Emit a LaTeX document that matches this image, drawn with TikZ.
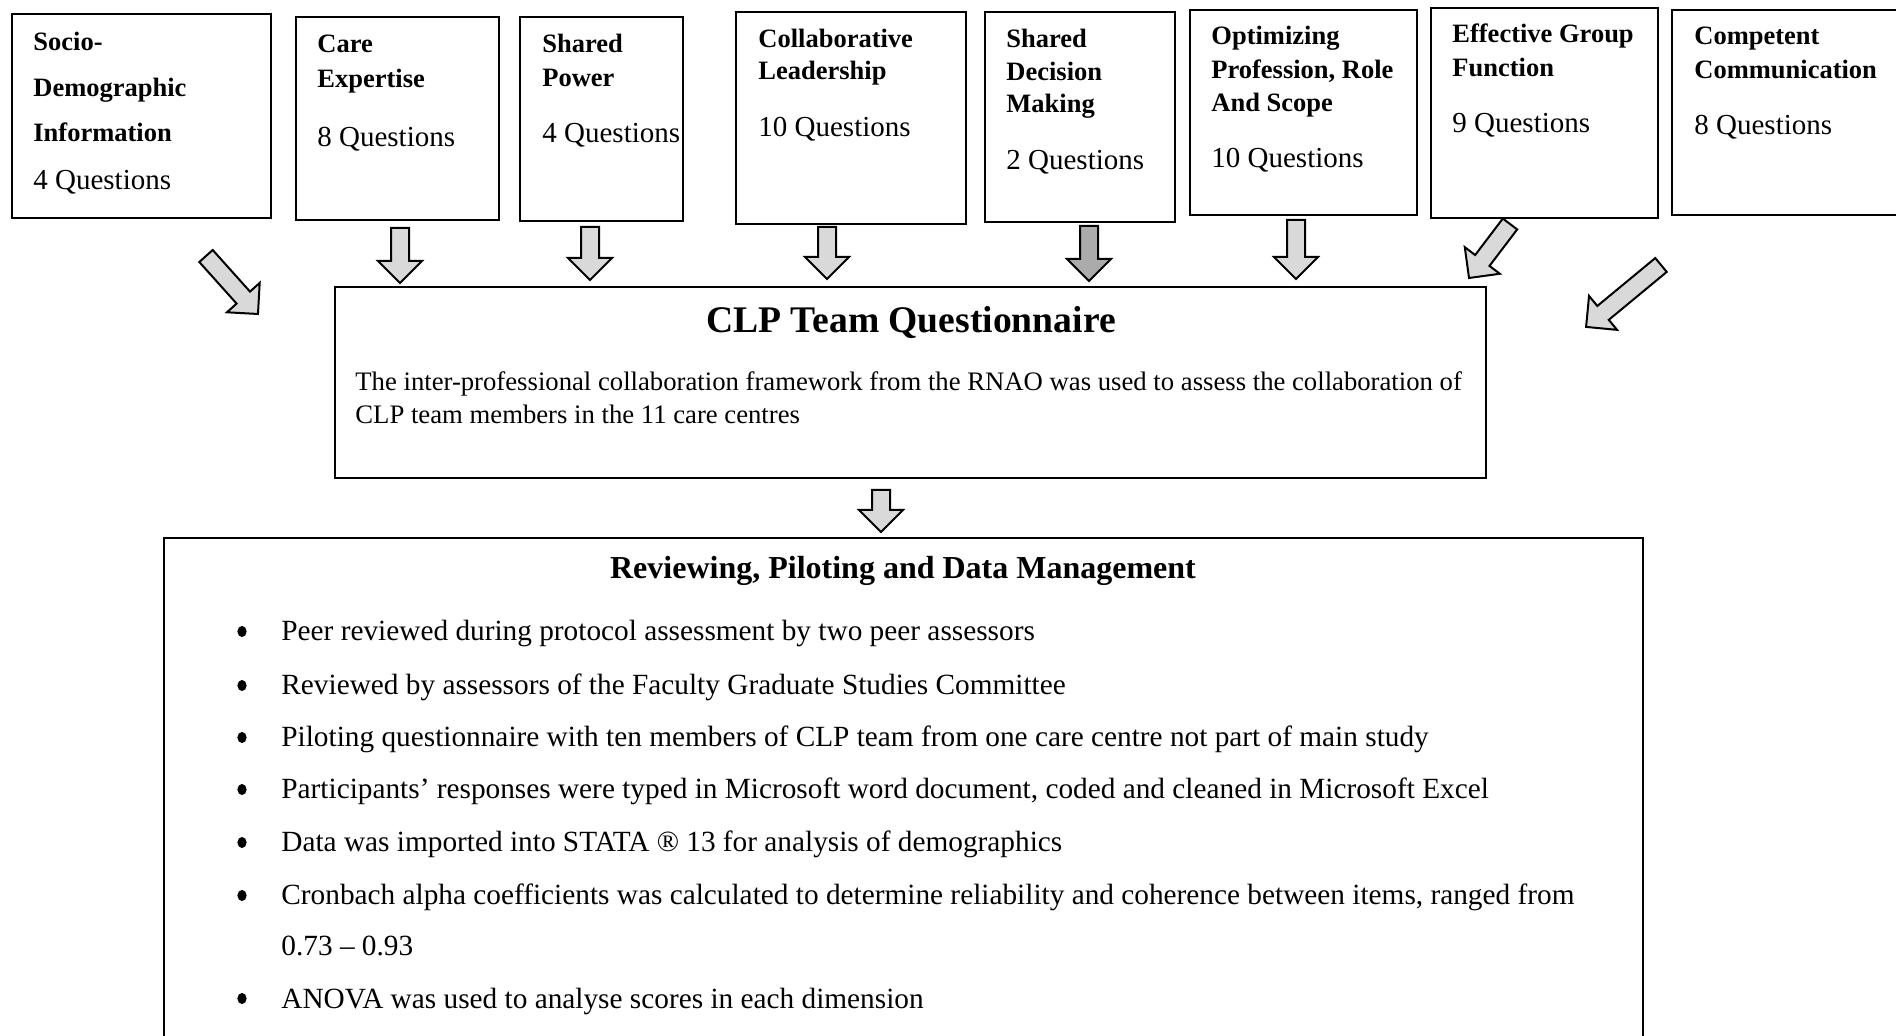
\documentclass[tikz,border=0pt]{standalone}
\usepackage{fontspec}
\setmainfont{Liberation Serif}
\usetikzlibrary{calc}
\definecolor{lightfill}{HTML}{D9D9D9}
\definecolor{darkfill}{HTML}{ABABAB}
\tikzset{
  box/.style={draw, line width=1.1pt, inner sep=0pt, fill=white},
  hd/.style={anchor=base west, inner sep=0pt, font=\fontsize{13.25pt}{16pt}\selectfont\bfseries},
  bd/.style={anchor=base west, inner sep=0pt, font=\fontsize{14.5pt}{17pt}\selectfont},
  rv/.style={anchor=base west, inner sep=0pt, font=\fontsize{14.65pt}{17pt}\selectfont},
  clpbody/.style={anchor=base west, inner sep=0pt, font=\fontsize{13.35pt}{16pt}\selectfont},
  blk/.style={draw, line width=1pt, line join=miter},
}
% box node from corner pixels
\newcommand{\bx}[5]{\node[box, minimum width={(#4-#2)*0.5pt}, minimum height={(#5-#3)*0.5pt}] (#1) at ({(#2+#4)/2},{(#3+#5)/2}) {};}
% block arrow from tail coordinate to tip coordinate
\newcommand{\blockarrow}[3][lightfill]{%
  \draw[blk, fill=#1] let \p1=(#2), \p2=(#3), \n1={atan2(\y2-\y1,\x2-\x1)}, \n2={veclen(\x2-\x1,\y2-\y1)} in
    [shift={(\p1)}, rotate=\n1]
    (0pt,-4.5pt) -- (\n2*1pt-11pt,-4.5pt) -- (\n2*1pt-11pt,-11pt) -- (\n2*1pt,0pt)
    -- (\n2*1pt-11pt,11pt) -- (\n2*1pt-11pt,4.5pt) -- (0pt,4.5pt) -- cycle;}
\begin{document}
\begin{tikzpicture}[x=0.5pt, y=-0.5pt]
\useasboundingbox (0,0) rectangle (1896,1036);
\fill[white] (0,0) rectangle (1896,1036);
\begin{scope}
\clip (0,0) rectangle (1896,1036);
% top boxes
\bx{b1}{12}{14}{271}{218}
\bx{b2}{296}{17}{499}{220}
\bx{b3}{520}{17}{683}{221}
\bx{b4}{736}{12}{966}{224}
\bx{b5}{985}{12}{1175}{222}
\bx{b6}{1190}{10}{1417}{215}
\bx{b7}{1431}{8}{1658}{218}
\bx{b8}{1672}{10}{1920}{215}
\bx{clp}{335}{287}{1486}{478}
\bx{rev}{164}{538}{1643}{1060}
\end{scope}
% texts of top boxes
\node[hd] (t1a) at (33,51) {Socio-};
\node[hd] (t1b) at (33,97) {Demographic};
\node[hd] (t1c) at (33,142) {Information};
\node[bd] (t1d) at (33,190) {4 Questions};
\node[hd] (t2a) at (317,53) {Care};
\node[hd] (t2b) at (317,88) {Expertise};
\node[bd] (t2c) at (317,147) {8 Questions};
\node[hd] (t3a) at (542,53) {Shared};
\node[hd] (t3b) at (542,87) {Power};
\node[bd] (t3c) at (542,143) {4 Questions};
\node[hd] (t4a) at (758,48) {Collaborative};
\node[hd] (t4b) at (758,80) {Leadership};
\node[bd] (t4c) at (758,137) {10 Questions};
\node[hd] (t5a) at (1006,48) {Shared};
\node[hd] (t5b) at (1006,81) {Decision};
\node[hd] (t5c) at (1006,113) {Making};
\node[bd] (t5d) at (1006,170) {2 Questions};
\node[hd] (t6a) at (1211,45) {Optimizing};
\node[hd] (t6b) at (1211,79) {Profession, Role};
\node[hd] (t6c) at (1211,112) {And Scope};
\node[bd] (t6d) at (1211,168) {10 Questions};
\node[hd] (t7a) at (1452,43) {Effective Group};
\node[hd] (t7b) at (1452,77) {Function};
\node[bd] (t7c) at (1452,133) {9 Questions};
\node[hd] (t8a) at (1694,45) {Competent};
\node[hd] (t8b) at (1694,79) {Communication};
\node[bd] (t8c) at (1694,135) {8 Questions};
% CLP box text
\node[anchor=base, inner sep=0pt, font=\fontsize{18.8pt}{22pt}\selectfont\bfseries] (clpt) at (911,333) {CLP Team Questionnaire};
\node[clpbody] (clp1) at (355,391) {The inter-professional collaboration framework from the RNAO was used to assess the collaboration of};
\node[clpbody] (clp2) at (355,424) {CLP team members in the 11 care centres};
% reviewing box text
\node[anchor=base, inner sep=0pt, font=\fontsize{16pt}{19pt}\selectfont\bfseries] (revt) at (903,579) {Reviewing, Piloting and Data Management};
\foreach \yy in {641,695,747,799,852,905,1008}{
  \fill (242,\yy-9.5) ellipse [x radius=2.3pt, y radius=2.8pt];
}
\node[rv] (r1) at (281,641) {Peer reviewed during protocol assessment by two peer assessors};
\node[rv] (r2) at (281,695) {Reviewed by assessors of the Faculty Graduate Studies Committee};
\node[rv] (r3) at (281,747) {Piloting questionnaire with ten members of CLP team from one care centre not part of main study};
\node[rv] (r4) at (281,799) {Participants’ responses were typed in Microsoft word document, coded and cleaned in Microsoft Excel};
\node[rv] (r5) at (281,852) {Data was imported into STATA ® 13 for analysis of demographics};
\node[rv] (r6) at (281,905) {Cronbach alpha coefficients was calculated to determine reliability and coherence between items, ranged from};
\node[rv] (r6b) at (281,955) {0.73 – 0.93};
\node[rv] (r7) at (281,1008) {ANOVA was used to analyse scores in each dimension};
% arrow endpoints
\coordinate (a1s) at (206,256);  \coordinate (a1e) at (258,314);
\coordinate (a2s) at (400,228);  \coordinate (a2e) at (400,283);
\coordinate (a3s) at (590,227);  \coordinate (a3e) at (590,280);
\coordinate (a4s) at (827,227);  \coordinate (a4e) at (827,279);
\coordinate (a5s) at (1089,226); \coordinate (a5e) at (1089,281);
\coordinate (a6s) at (1296,220); \coordinate (a6e) at (1296,279);
\coordinate (a7s) at (1510,224); \coordinate (a7e) at (1469,278);
\coordinate (a8s) at (1661,265); \coordinate (a8e) at (1586,327);
\coordinate (a9s) at (881,490);  \coordinate (a9e) at (881,532);
\blockarrow{a1s}{a1e}
\blockarrow{a2s}{a2e}
\blockarrow{a3s}{a3e}
\blockarrow{a4s}{a4e}
\blockarrow[darkfill]{a5s}{a5e}
\blockarrow{a6s}{a6e}
\blockarrow{a7s}{a7e}
\blockarrow{a8s}{a8e}
\blockarrow{a9s}{a9e}
\end{tikzpicture}
\end{document}
